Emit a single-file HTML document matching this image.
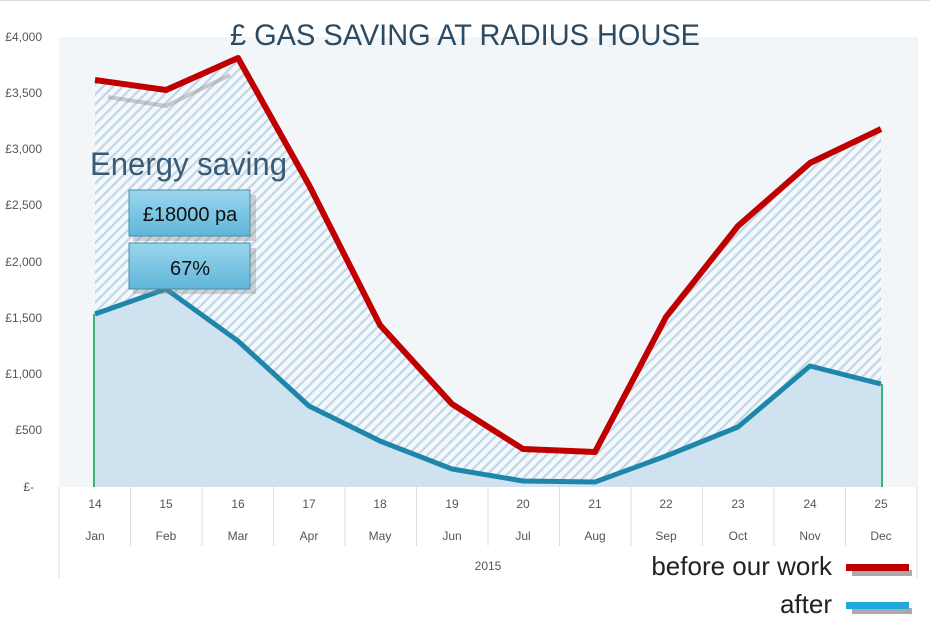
<!DOCTYPE html>
<html><head><meta charset="utf-8"><style>
body{margin:0;width:930px;height:620px;background:#fff;overflow:hidden;font-family:"Liberation Sans",sans-serif}
</style></head><body>
<svg width="930" height="620" xmlns="http://www.w3.org/2000/svg">
<defs>
<pattern id="h" width="7" height="7" patternUnits="userSpaceOnUse" patternTransform="rotate(45)">
<rect width="7" height="7" fill="#f4f8fb"/><rect width="2.2" height="7" fill="#bdd6e8"/></pattern>
<linearGradient id="bx" x1="0" y1="0" x2="0" y2="1"><stop offset="0" stop-color="#9ad6ec"/><stop offset="1" stop-color="#5fb6da"/></linearGradient>
</defs>
<rect x="0" y="0" width="930" height="1" fill="#ddd"/>
<rect x="59" y="37" width="859" height="450" fill="#f2f6f9"/>
<g font-size="12" fill="#555" text-anchor="end">
<text x="42" y="41">£4,000</text><text x="42" y="97">£3,500</text><text x="42" y="153">£3,000</text><text x="42" y="209">£2,500</text><text x="42" y="266">£2,000</text><text x="42" y="322">£1,500</text><text x="42" y="378">£1,000</text><text x="42" y="434">£500</text><text x="34" y="491">£-</text>
</g>
<polygon fill="url(#h)" points="95,80 166,90 238,58 309,185 380,325 452,404 523,449 595,452 666,317 738,226 810,163 881,129 881,487 95,487"/>
<polygon fill="#cfe2ef" points="95,314 166,289 238,341 309,406 380,441 452,469 523,481 595,482 666,456 738,427 810,366 881,384 881,487 95,487"/>
<line x1="94" y1="314" x2="94" y2="487" stroke="#3cb371" stroke-width="2"/>
<line x1="882" y1="384" x2="882" y2="487" stroke="#3cb371" stroke-width="2"/>
<polyline fill="none" stroke="#999" stroke-width="4" opacity="0.5" points="108,97 166,106 230,75"/>
<polyline fill="none" stroke="#c00000" stroke-width="6" stroke-linejoin="round" points="95,80 166,90 238,58 309,185 380,325 452,404 523,449 595,452 666,317 738,226 810,163 881,129"/>
<polyline fill="none" stroke="#1f86ab" stroke-width="5" stroke-linejoin="round" points="95,314 166,289 238,341 309,406 380,441 452,469 523,481 595,482 666,456 738,427 810,366 881,384"/>
<g stroke="#ddd" stroke-width="1">
<line x1="59" y1="487" x2="59" y2="578"/>
<line x1="130.5" y1="487" x2="130.5" y2="546"/><line x1="202" y1="487" x2="202" y2="546"/><line x1="273.5" y1="487" x2="273.5" y2="546"/><line x1="345" y1="487" x2="345" y2="546"/><line x1="416.5" y1="487" x2="416.5" y2="546"/><line x1="488" y1="487" x2="488" y2="546"/><line x1="559.5" y1="487" x2="559.5" y2="546"/><line x1="631" y1="487" x2="631" y2="546"/><line x1="702.5" y1="487" x2="702.5" y2="546"/><line x1="774" y1="487" x2="774" y2="546"/><line x1="845.5" y1="487" x2="845.5" y2="546"/>
<line x1="917" y1="487" x2="917" y2="578"/>
</g>
<g font-size="12" fill="#555" text-anchor="middle">
<text x="95" y="508">14</text><text x="166" y="508">15</text><text x="238" y="508">16</text><text x="309" y="508">17</text><text x="380" y="508">18</text><text x="452" y="508">19</text><text x="523" y="508">20</text><text x="595" y="508">21</text><text x="666" y="508">22</text><text x="738" y="508">23</text><text x="810" y="508">24</text><text x="881" y="508">25</text>
<text x="95" y="540">Jan</text><text x="166" y="540">Feb</text><text x="238" y="540">Mar</text><text x="309" y="540">Apr</text><text x="380" y="540">May</text><text x="452" y="540">Jun</text><text x="523" y="540">Jul</text><text x="595" y="540">Aug</text><text x="666" y="540">Sep</text><text x="738" y="540">Oct</text><text x="810" y="540">Nov</text><text x="881" y="540">Dec</text>
<text x="488" y="570">2015</text>
</g>
<text x="230" y="45" font-size="30" fill="#2c4b63" textLength="470" lengthAdjust="spacingAndGlyphs">£ GAS SAVING AT RADIUS HOUSE</text>
<text x="90" y="175" font-size="32" fill="#3a5a74" textLength="197" lengthAdjust="spacingAndGlyphs">Energy saving</text>
<rect x="133" y="195" width="123" height="46" fill="#888" opacity="0.35"/>
<rect x="129" y="190" width="121" height="46" fill="url(#bx)" stroke="#4a8ea8"/>
<text x="190" y="221" font-size="20" fill="#111" text-anchor="middle">£18000 pa</text>
<rect x="133" y="248" width="123" height="46" fill="#888" opacity="0.35"/>
<rect x="129" y="243" width="121" height="46" fill="url(#bx)" stroke="#4a8ea8"/>
<text x="190" y="275" font-size="20" fill="#111" text-anchor="middle">67%</text>
<text x="832" y="575" font-size="26" fill="#222" text-anchor="end">before our work</text>
<text x="832" y="613" font-size="26" fill="#222" text-anchor="end">after</text>
<rect x="852" y="570" width="60" height="6" fill="#555" opacity="0.5"/>
<rect x="846" y="564" width="63" height="7" fill="#c00000"/>
<rect x="852" y="608" width="60" height="6" fill="#555" opacity="0.5"/>
<rect x="846" y="602" width="63" height="7" fill="#22a8dc"/>
</svg>
</body></html>
